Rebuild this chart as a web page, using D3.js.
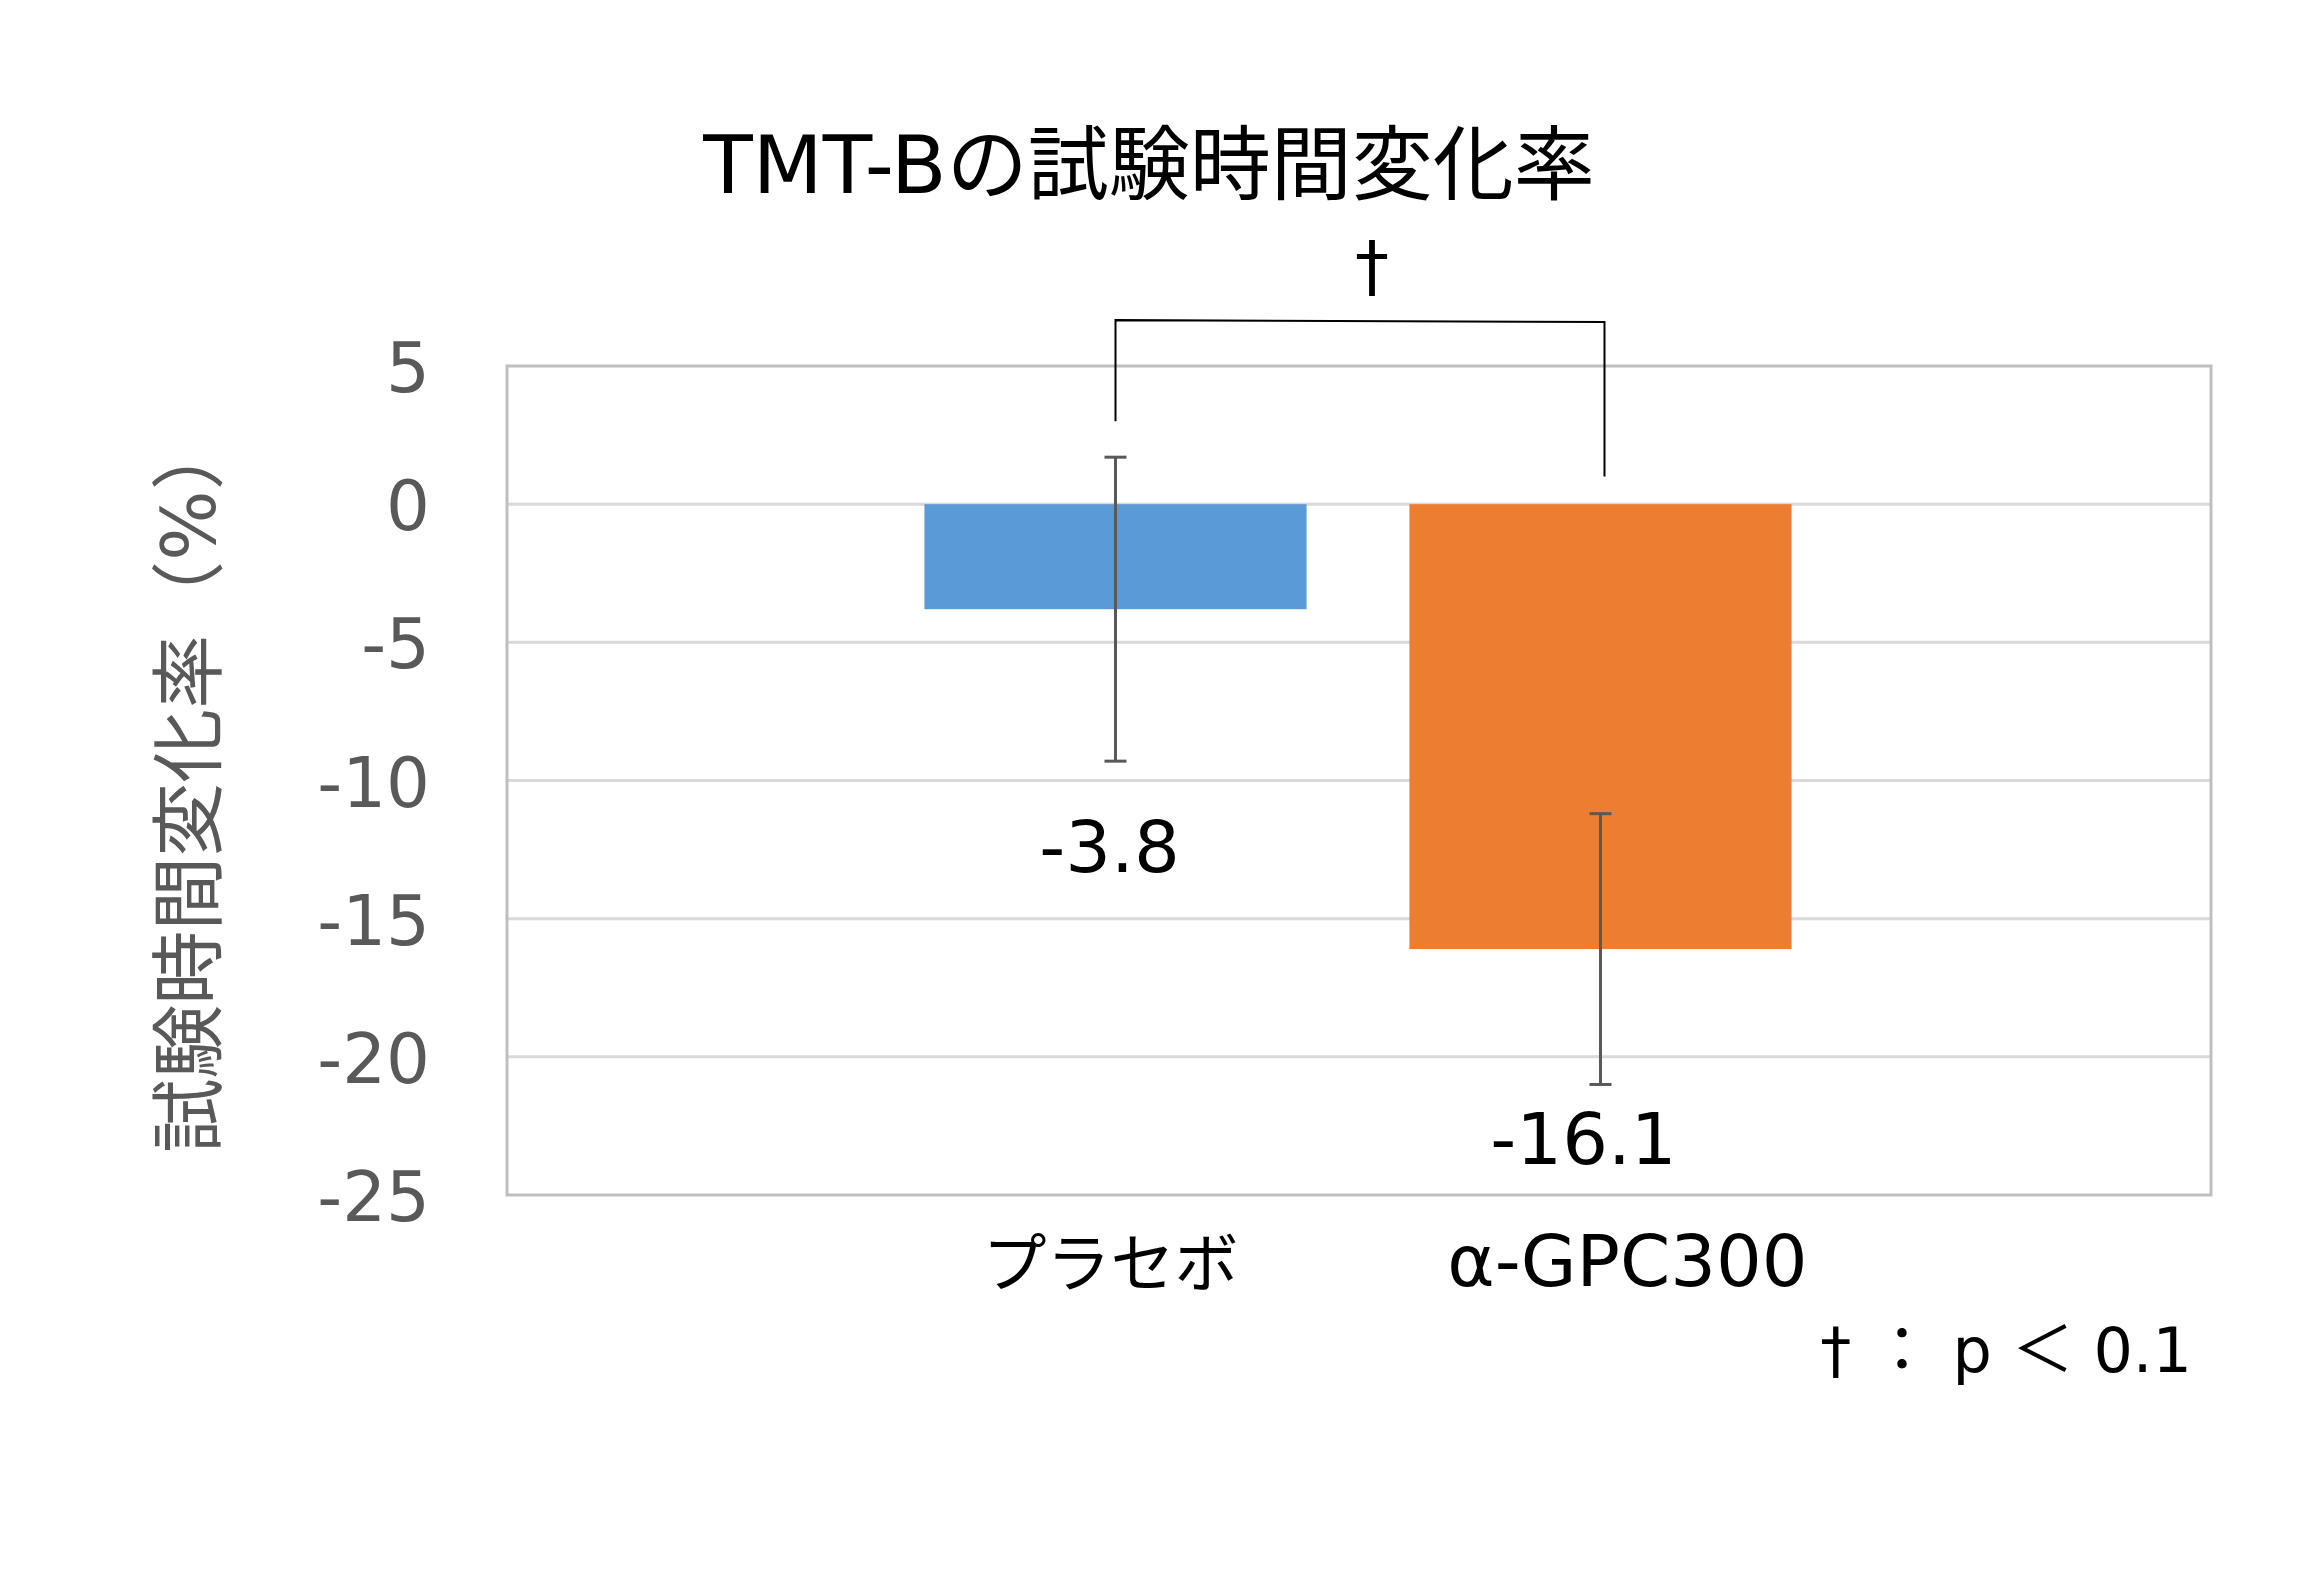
<!DOCTYPE html>
<html>
<head>
<meta charset="utf-8">
<script src="https://cdn.jsdelivr.net/npm/d3@7"></script>
<style>
  html, body { margin: 0; padding: 0; background: #fff; }
  text { font-family: "DejaVu Sans", "Noto Sans CJK JP", sans-serif; }
</style>
</head>
<body>
<div id="chart"></div>
<script>
// data
var categories = ["プラセボ", "α-GPC300"];
var means = [-3.8, -16.1];
var errors = [5.5, 4.9];
var valueLabels = ["-3.8", "-16.1"];
var barColors = ["#5b9bd5", "#ed7d31"];
var yTicks = [5, 0, -5, -10, -15, -20, -25];

var svgWidth = 2323;
var svgHeight = 1595;

var margin = { top: 366, right: 112, bottom: 400, left: 507 };
var width = svgWidth - margin.left - margin.right;
var height = svgHeight - margin.top - margin.bottom;

var svg = d3.select("#chart")
  .append("svg")
  .attr("width", svgWidth)
  .attr("height", svgHeight);

var chartGroup = svg.append("g")
  .attr("transform", `translate(${margin.left}, ${margin.top})`);

// scales
var yScale = d3.scaleLinear()
  .domain([-25, 5])
  .range([height, 0]);

var xScale = d3.scaleBand()
  .domain(categories)
  .range([366, 1336])
  .paddingInner(0.212)
  .paddingOuter(0.106);

var center = (d, i) => xScale(categories[i]) + xScale.bandwidth() / 2;

// gridlines
chartGroup.append("g")
  .selectAll("line")
  .data(yTicks.filter(d => d !== 5 && d !== -25))
  .enter()
  .append("line")
  .attr("x1", 0)
  .attr("x2", width)
  .attr("y1", d => yScale(d))
  .attr("y2", d => yScale(d))
  .attr("stroke", "#d9d9d9")
  .attr("stroke-width", 3);

// plot border
chartGroup.append("rect")
  .attr("x", 0)
  .attr("y", 0)
  .attr("width", width)
  .attr("height", height)
  .attr("fill", "none")
  .attr("stroke", "#bfbfbf")
  .attr("stroke-width", 3);

// y axis tick labels
var leftAxis = d3.axisLeft(yScale)
  .tickValues(yTicks)
  .tickFormat(d => String(d))
  .tickSize(0)
  .tickPadding(77);

chartGroup.append("g")
  .call(leftAxis)
  .call(g => g.select(".domain").remove())
  .selectAll("text")
  .attr("fill", "#595959")
  .attr("font-family", "DejaVu Sans, sans-serif")
  .attr("font-size", 69)
  .attr("dy", "0.37em");

// bars
chartGroup.selectAll(".bar")
  .data(means)
  .enter()
  .append("rect")
  .attr("class", "bar")
  .attr("x", (d, i) => xScale(categories[i]))
  .attr("width", xScale.bandwidth())
  .attr("y", d => yScale(Math.max(0, d)))
  .attr("height", d => Math.abs(yScale(d) - yScale(0)))
  .attr("fill", (d, i) => barColors[i]);

// error bars
var capHalf = 11;
var errGroup = chartGroup.selectAll(".err")
  .data(means)
  .enter()
  .append("g")
  .attr("class", "err")
  .attr("stroke", "#595959")
  .attr("stroke-width", 3);

errGroup.append("line")
  .attr("x1", center)
  .attr("x2", center)
  .attr("y1", (d, i) => yScale(d + errors[i]))
  .attr("y2", (d, i) => yScale(d - errors[i]));

[1, -1].forEach(function (sign) {
  errGroup.append("line")
    .attr("x1", (d, i) => center(d, i) - capHalf)
    .attr("x2", (d, i) => center(d, i) + capHalf)
    .attr("y1", (d, i) => yScale(d + sign * errors[i]))
    .attr("y2", (d, i) => yScale(d + sign * errors[i]));
});

// value labels, below the lower whisker
var labelDx = [-6, -17];
var labelDy = [111, 80];
chartGroup.selectAll(".valueLabel")
  .data(means)
  .enter()
  .append("text")
  .attr("class", "valueLabel")
  .attr("x", (d, i) => center(d, i) + labelDx[i])
  .attr("y", (d, i) => yScale(d - errors[i]) + labelDy[i])
  .attr("text-anchor", "middle")
  .attr("font-size", 72)
  .attr("fill", "#000")
  .text((d, i) => valueLabels[i]);

// category labels
var catDx = [-5, 27];
chartGroup.selectAll(".catLabel")
  .data(categories)
  .enter()
  .append("text")
  .attr("class", "catLabel")
  .attr("x", (d, i) => center(d, i) + catDx[i])
  .attr("y", height + 91)
  .attr("text-anchor", "middle")
  .attr("font-size", (d, i) => i === 0 ? 64 : 72)
  .attr("fill", "#000")
  .text(d => d);

// significance bracket
var cx0 = center(0, 0);
var cx1 = center(0, 1) + 4;
chartGroup.append("path")
  .attr("d", `M${cx0},${yScale(3.0)} L${cx0},${yScale(6.66)} L${cx1},${yScale(6.59)} L${cx1},${yScale(1.0)}`)
  .attr("fill", "none")
  .attr("stroke", "#000")
  .attr("stroke-width", 2);

chartGroup.append("text")
  .attr("x", (cx0 + cx1) / 2 + 12)
  .attr("y", -77)
  .attr("text-anchor", "middle")
  .attr("font-size", 68)
  .attr("fill", "#000")
  .text("†");

// title
svg.append("text")
  .attr("x", 1149)
  .attr("y", 193)
  .attr("text-anchor", "middle")
  .attr("font-size", 81)
  .attr("fill", "#000")
  .text("TMT-Bの試験時間変化率");

// y axis title
svg.append("text")
  .attr("transform", `translate(215, ${margin.top + height / 2 + 4}) rotate(-90)`)
  .attr("text-anchor", "middle")
  .attr("font-size", 74)
  .attr("fill", "#595959")
  .text("試験時間変化率（%）");

// footnote
svg.append("text")
  .attr("x", 2192)
  .attr("y", 1372)
  .attr("text-anchor", "end")
  .attr("font-size", 62)
  .attr("fill", "#000")
  .attr("xml:space", "preserve")
  .text("† ： p ＜ 0.1");
</script>
</body>
</html>
